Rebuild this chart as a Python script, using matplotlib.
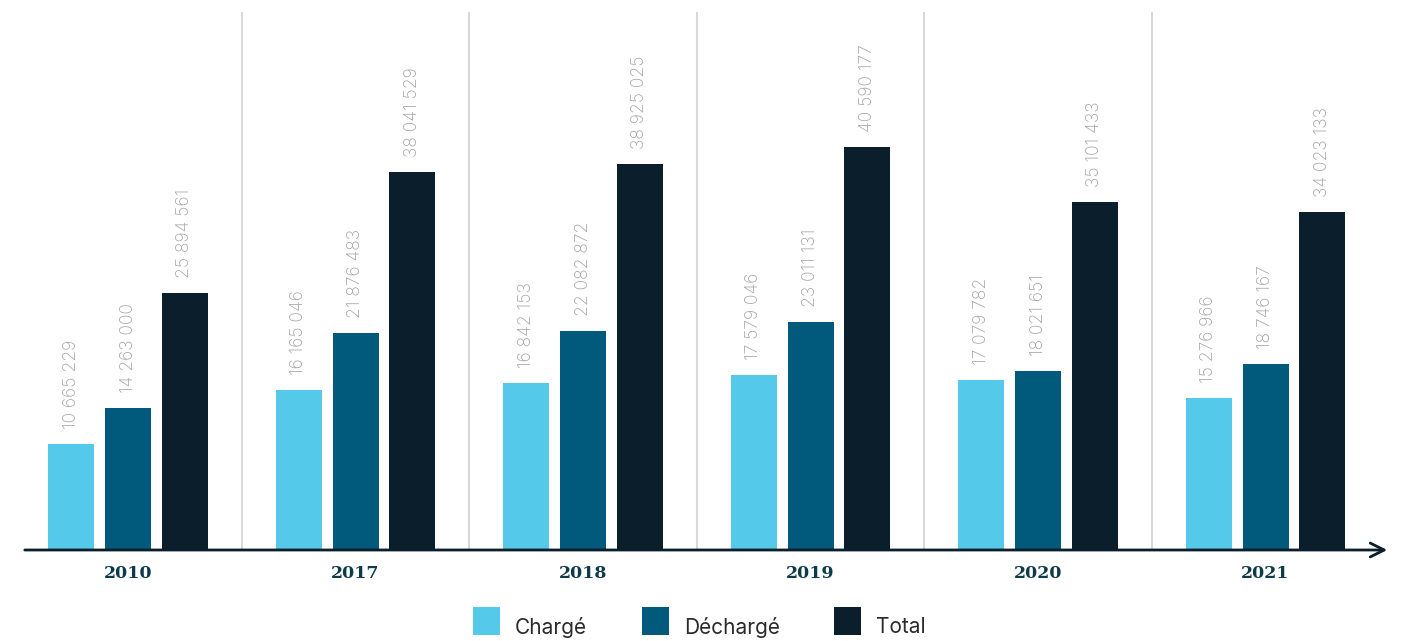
import matplotlib
matplotlib.use("Agg")
import matplotlib.pyplot as plt
from matplotlib.patches import Rectangle

years = ["2010", "2017", "2018", "2019", "2020", "2021"]
charge = [10665229, 16165046, 16842153, 17579046, 17079782, 15276966]
decharge = [14263000, 21876483, 22082872, 23011131, 18021651, 18746167]
total = [25894561, 38041529, 38925025, 40590177, 35101433, 34023133]

series_names = ["Chargé", "Déchargé", "Total"]
colors = ["#55c9e9", "#015a7b", "#0a1e2c"]

W, H = 1408, 641

def fmt(v):
    # espace comme séparateur de milliers
    return f"{v:,}".replace(",", " ")

fig = plt.figure(figsize=(W / 100, H / 100), dpi=100)
ax = fig.add_axes([22 / W, 1 - 550 / H, (1390 - 22) / W, 550 / H])

x0 = -0.466
x1 = 5.547
ax.set_xlim(x0, x1)
ax.set_ylim(0, 55.4e6)

# séparateurs verticaux entre les années
for g in range(len(years) - 1):
    ax.vlines(g + 0.5, 0, 54.2e6, color="#d9d9d9", lw=1.5, zorder=0)

offsets = [-0.25, 0, 0.25]
width = 0.202
for k, vals in enumerate([charge, decharge, total]):
    xs = [g + offsets[k] for g in range(len(years))]
    ax.bar(xs, vals, width=width, color=colors[k], zorder=2)
    for x, v in zip(xs, vals):
        ax.annotate(fmt(v), (x, v), xytext=(0, 15), textcoords="offset pixels",
                    rotation=90, ha="center", va="bottom", fontsize=12.6,
                    color="#a3a3a3", family=["Inter", "DejaVu Sans"], fontweight="light")

# axe horizontal avec flèche
ax.annotate("", xy=(x1, 0), xytext=(x0, 0), xycoords="data",
            arrowprops=dict(arrowstyle="->", lw=2, color="#0a1e2c", mutation_scale=25),
            annotation_clip=False)

for g, y in enumerate(years):
    ax.annotate(y, (g, 0), xytext=(0, -24), textcoords="offset pixels",
                ha="center", va="center", fontsize=12.5, fontweight="bold",
                family="DejaVu Serif", color="#0d3b4c", annotation_clip=False)

ax.axis("off")

# légende dessinée à la main
leg_x = [473, 642, 834]
for name, c, lx in zip(series_names, colors, leg_x):
    fig.patches.append(Rectangle((lx / W, 1 - 635 / H), 27 / W, 28 / H,
                                 transform=fig.transFigure, facecolor=c, edgecolor="none"))
    fig.text((lx + 42) / W, 1 - 627 / H, name, ha="left", va="center",
             fontsize=15, family=["Inter", "DejaVu Sans"], color="#2b2b2b")

fig.savefig("out.png", dpi=100)
